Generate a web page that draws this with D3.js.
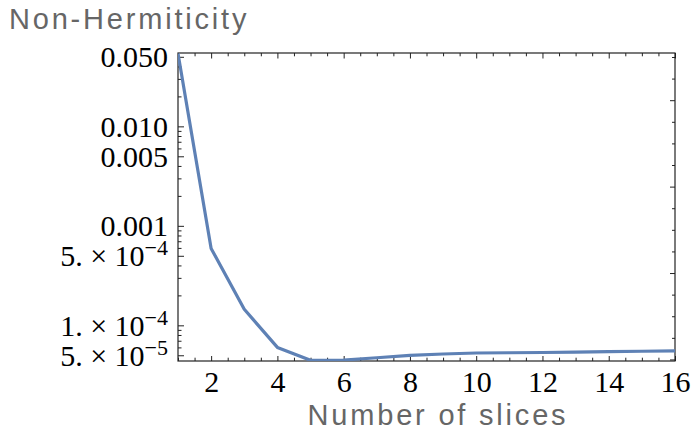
<!DOCTYPE html>
<html lang="en">

<head>
  <meta http-equiv="Content-Type" content="text/html; charset=utf-8">
  <title>Non-Hermiticity</title>
  <style type="text/css">
    body   { margin: 0; background: #fff; }
    svg    { display: block; }
    .tick text { font: 30px "Liberation Serif", "Times New Roman", serif; fill: #000; }
    .lab   { font: 29px "Liberation Sans", Arial, sans-serif; fill: #666; letter-spacing: 2.8px; }
    .domain { display: none; }
    .tick line { stroke: #222; }
  </style>
</head>

<body>

<script src="https://cdn.jsdelivr.net/npm/d3@7"></script>
<script>
  //----------------------------------------------------------------------------
  // number of slices and the measured non-hermiticity
  var slices = [1, 2, 3, 4, 5, 6, 7, 8, 9, 10, 11, 12, 13, 14, 15, 16];
  var nonHerm = [0.0540, 5.93e-4, 1.45e-4, 6.0e-5, 4.45e-5, 4.48e-5, 4.72e-5, 4.99e-5,
                 5.15e-5, 5.27e-5, 5.30e-5, 5.33e-5, 5.39e-5, 5.44e-5, 5.49e-5, 5.54e-5];

  var xTicks = [2, 4, 6, 8, 10, 12, 14, 16];
  var yTicks = [0.05, 0.01, 0.005, 0.001, 5e-4, 1e-4, 5e-5];
  var yTickLabels = ["0.050", "0.010", "0.005", "0.001",
                     "5. \u00d7 10^\u22124", "1. \u00d7 10^\u22124", "5. \u00d7 10^\u22125"];

  var width = 694;
  var height = 436;
  // plot frame (window.top is reserved, hence the names)
  var fLeft = 178, fRight = 675, fTop = 53, fBottom = 361;

  var x = d3.scaleLinear().domain([1, 16]).range([fLeft, fRight]);
  var y = d3.scaleLog().domain([4.38e-5, 0.0546]).range([fBottom, fTop]);

  var svg = d3.select("body")
    .append("svg")
      .attr("width", width)
      .attr("height", height);

  // minor ticks: every half slice, and 1..9 x 10^k on the log axis
  var xMinor = d3.range(1, 16.01, 0.5).filter(function(d) { return xTicks.indexOf(d) < 0; });
  var yMinor = [];
  [-5, -4, -3, -2].forEach(function(k) {
    d3.range(1, 10).forEach(function(m) {
      var v = m * Math.pow(10, k);
      var ok = v >= y.domain()[0] && v <= y.domain()[1];
      var major = yTicks.some(function(t) { return Math.abs(t - v) / v < 1e-6; });
      if (ok && !major) yMinor.push(v);
    });
  });
  // right edge uses natural-log ticks
  var lnLo = Math.log(y.domain()[0]), lnHi = Math.log(y.domain()[1]);
  var lnAll = d3.range(Math.ceil(lnLo * 2) / 2, lnHi, 0.5);
  var lnMajor = lnAll.filter(function(t) { return t % 2 === 0; }).map(Math.exp);
  var lnMinor = lnAll.filter(function(t) { return t % 2 !== 0; }).map(Math.exp);

  function tickAxis(axis, tx, ty, values, size, fmt) {
    return svg.append("g")
      .attr("transform", "translate(" + tx + "," + ty + ")")
      .call(axis.tickValues(values).tickSizeInner(size).tickSizeOuter(0)
        .tickPadding(10).tickFormat(fmt || ""));
  }

  // bottom
  var gx = tickAxis(d3.axisBottom(x), 0, fBottom, xTicks, -5, d3.format("d"));
  tickAxis(d3.axisBottom(x), 0, fBottom, xMinor, -3.3);
  // top
  tickAxis(d3.axisTop(x), 0, fTop, xTicks, -5.5);
  tickAxis(d3.axisTop(x), 0, fTop, xMinor, -3.3);
  // left
  var gy = tickAxis(d3.axisLeft(y), fLeft, 0, yTicks, -6, function(d, i) { return yTickLabels[i]; });
  tickAxis(d3.axisLeft(y), fLeft, 0, yMinor, -3.5);
  // right
  tickAxis(d3.axisRight(y), fRight, 0, lnMajor, -5);
  tickAxis(d3.axisRight(y), fRight, 0, lnMinor, -3);

  // tick labels: vertical placement and superscripts
  gx.selectAll(".tick text").attr("dy", null).attr("y", 31);
  gy.selectAll(".tick text")
    .attr("dy", 10)
    .each(function() {
      var t = d3.select(this), parts = t.text().split("^");
      if (parts.length < 2) return;
      t.text(null);
      t.append("tspan").text(parts[0]);
      t.append("tspan").attr("dy", -11).style("font-size", "22px").text(parts[1]);
    });

  // frame
  svg.append("rect")
    .attr("x", fLeft).attr("y", fTop)
    .attr("width", fRight - fLeft).attr("height", fBottom - fTop)
    .attr("fill", "none").attr("stroke", "#222").attr("stroke-width", 1.2);

  svg.append("clipPath").attr("id", "plotclip")
    .append("rect")
      .attr("x", fLeft).attr("y", fTop)
      .attr("width", fRight - fLeft).attr("height", fBottom - fTop);

  var line = d3.line()
    .x(function(d, i) { return x(slices[i]); })
    .y(function(d) { return y(d); });

  svg.append("path")
    .datum(nonHerm)
    .attr("clip-path", "url(#plotclip)")
    .attr("d", line)
    .attr("fill", "none")
    .attr("stroke", "#5e81b5")
    .attr("stroke-width", 3.2)
    .attr("stroke-linejoin", "round");

  // labels
  svg.append("text").attr("class", "lab")
    .attr("x", 9).attr("y", 29)
    .text("Non-Hermiticity");

  svg.append("text").attr("class", "lab")
    .attr("x", 438).attr("y", 425)
    .attr("text-anchor", "middle")
    .text("Number of slices");

  //----------------------------------------------------------------------------
</script>

</body>
</html>
